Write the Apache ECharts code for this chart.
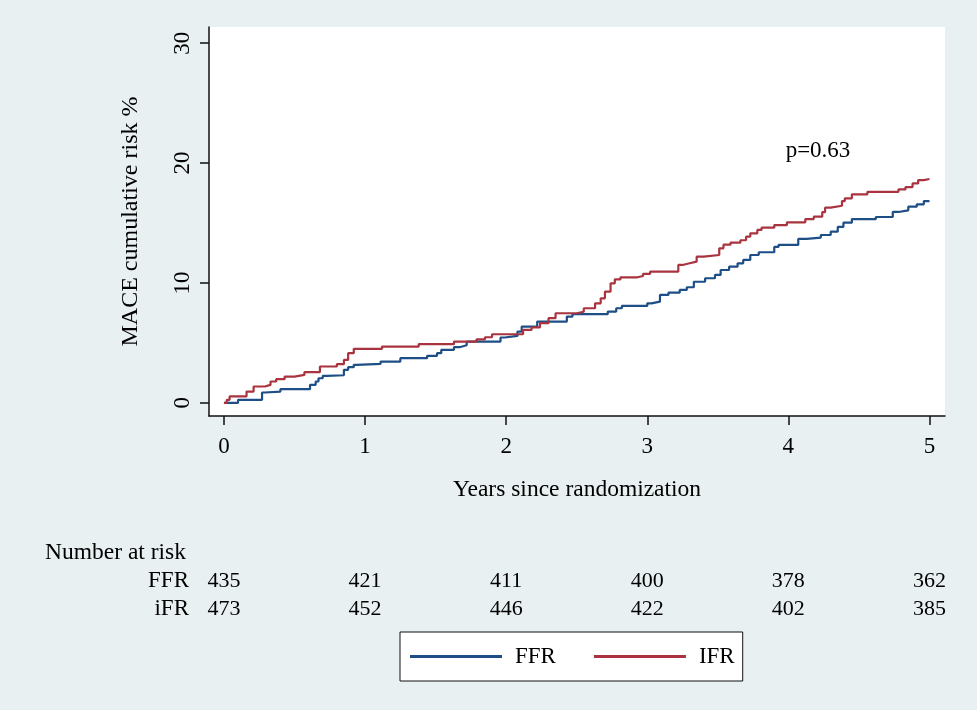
<!DOCTYPE html>
<html>
<head>
<meta charset="utf-8">
<script src="https://cdn.jsdelivr.net/npm/echarts@6/dist/echarts.min.js"></script>
<style>
  html, body { margin: 0; padding: 0; background: #e8f0f2; }
  #app { width: 977px; height: 710px; }
</style>
</head>
<body>
<div id="app"></div>
<script>
// Kaplan-Meier style cumulative risk
const ffrTime = [0, 0.10, 0.27, 0.29, 0.40, 0.61, 0.65, 0.67, 0.70, 0.73, 0.85, 0.88, 0.92, 0.94,
    1.11, 1.25, 1.44, 1.51, 1.54, 1.63, 1.67, 1.72, 1.96, 1.99, 2.08, 2.11, 2.22, 2.43, 2.47,
    2.72, 2.78, 2.82, 3.00, 3.03, 3.09, 3.15, 3.23, 3.28, 3.33, 3.41, 3.48, 3.52, 3.58, 3.64,
    3.68, 3.73, 3.79, 3.90, 3.93, 4.07, 4.13, 4.23, 4.30, 4.35, 4.39, 4.45, 4.62, 4.74, 4.78,
    4.85, 4.91, 4.96, 5.0];
const ffrRisk = [0, 0.25, 0.86, 0.94, 1.14, 1.5, 1.78, 2.05, 2.25, 2.3, 2.75, 2.97, 3.17, 3.25,
    3.44, 3.72, 3.92, 4.14, 4.42, 4.64, 4.8, 5.11, 5.45, 5.58, 5.94, 6.36, 6.78, 7.19, 7.39,
    7.61, 7.89, 8.08, 8.3, 8.44, 9.0, 9.19, 9.42, 9.64, 10.1, 10.39, 10.67, 11.08, 11.36, 11.64,
    11.92, 12.33, 12.56, 13.0, 13.17, 13.67, 13.78, 14.0, 14.28, 14.67, 15.03, 15.33, 15.5, 15.92, 16.06,
    16.36, 16.56, 16.83, 16.83];

const ifrTime = [0, 0.02, 0.04, 0.16, 0.21, 0.29, 0.33, 0.37, 0.43, 0.50, 0.57, 0.68, 0.80, 0.85,
    0.88, 0.92, 1.12, 1.38, 1.63, 1.79, 1.85, 1.90, 2.12, 2.18, 2.24, 2.30, 2.35, 2.50, 2.55,
    2.63, 2.67, 2.70, 2.74, 2.77, 2.81, 2.93, 2.97, 3.02, 3.22, 3.25, 3.30, 3.35, 3.40, 3.51,
    3.54, 3.59, 3.66, 3.70, 3.73, 3.78, 3.81, 3.90, 3.99, 4.12, 4.18, 4.24, 4.26, 4.30, 4.38,
    4.40, 4.45, 4.56, 4.78, 4.83, 4.88, 4.92, 4.96, 5.0];
const ifrRisk = [0, 0.25, 0.53, 0.94, 1.36, 1.5, 1.78, 1.97, 2.19, 2.33, 2.56, 3.03, 3.22, 3.58,
    4.14, 4.5, 4.69, 4.89, 5.11, 5.3, 5.47, 5.72, 6.08, 6.3, 6.64, 7.06, 7.47, 7.6, 7.89,
    8.3, 8.72, 9.28, 9.97, 10.3, 10.47, 10.58, 10.75, 10.94, 11.5, 11.64, 11.78, 12.19, 12.33, 12.89,
    13.19, 13.36, 13.56, 13.86, 14.14, 14.42, 14.61, 14.83, 15.06, 15.33, 15.53, 15.9, 16.28, 16.44, 16.83,
    17.06, 17.39, 17.6, 17.8, 18.0, 18.3, 18.58, 18.67, 18.67];

const xTicks = [0, 1, 2, 3, 4, 5];
const yTicks = [0, 10, 20, 30];

const riskYears = [0, 1, 2, 3, 4, 5];
const ffrAtRisk = [435, 421, 411, 400, 378, 362];
const ifrAtRisk = [473, 452, 446, 422, 402, 385];

const pValueText = 'p=0.63';
const pValuePos = [4.21, 21];

const FONT = '"Liberation Serif", "Times New Roman", serif';
const BLUE = '#1d4e86';
const RED = '#a9343f';

const chart = echarts.init(document.getElementById('app'));

const zip = (a, b) => a.map((v, i) => [v, b[i]]);

chart.setOption({
    animation: false,
    backgroundColor: '#e8f0f2',
    textStyle: { fontFamily: FONT },
    grid: {
        left: 209, right: 32, top: 27, bottom: 294,
        show: true, backgroundColor: '#fff', borderWidth: 0
    },
    xAxis: {
        type: 'value',
        min: -0.106, max: 5.11,
        name: 'Years since randomization',
        nameLocation: 'middle',
        nameGap: 62,
        nameTextStyle: { fontFamily: FONT, fontSize: 23.5, color: '#000' },
        axisLine: { onZero: false, lineStyle: { color: '#111', width: 1.5 } },
        axisTick: { customValues: xTicks, length: 9, lineStyle: { color: '#111', width: 1.5 } },
        axisLabel: { customValues: xTicks, margin: 19, fontFamily: FONT, fontSize: 23, color: '#000' },
        splitLine: { show: false }
    },
    yAxis: {
        type: 'value',
        min: -1.1, max: 31.35,
        name: 'MACE cumulative risk %',
        nameLocation: 'middle',
        nameGap: 66,
        nameRotate: 90,
        nameTextStyle: { fontFamily: FONT, fontSize: 24, color: '#000' },
        axisLine: { show: true, onZero: false, lineStyle: { color: '#111', width: 1.5 } },
        axisTick: { show: true, customValues: yTicks, length: 9, lineStyle: { color: '#111', width: 1.5 } },
        axisLabel: { customValues: yTicks, rotate: 90, margin: 15, fontFamily: FONT, fontSize: 23, color: '#000' },
        splitLine: { show: false }
    },
    legend: {
        left: 400, top: 632,
        orient: 'horizontal',
        backgroundColor: '#fff',
        borderColor: '#111', borderWidth: 1,
        padding: [13, 8, 13, 10],
        icon: 'rect',
        itemWidth: 92, itemHeight: 3,
        itemGap: 38,
        textStyle: { fontFamily: FONT, fontSize: 23, color: '#000', padding: [0, 0, 0, 8] },
        data: ['FFR', 'IFR']
    },
    series: [
        {
            name: 'FFR', type: 'line', step: 'end', symbol: 'none',
            lineStyle: { color: BLUE, width: 2.2 }, itemStyle: { color: BLUE },
            data: zip(ffrTime, ffrRisk)
        },
        {
            name: 'IFR', type: 'line', step: 'end', symbol: 'none',
            lineStyle: { color: RED, width: 2.2 }, itemStyle: { color: RED },
            data: zip(ifrTime, ifrRisk)
        }
    ]
});

// number-at-risk table and p value, placed through the axes
const px = t => chart.convertToPixel({ xAxisIndex: 0 }, t);
const textEl = (x, y, text, align, size) => ({
    type: 'text', x: x, y: y,
    style: { text: text, fill: '#000', font: (size || 23) + 'px ' + FONT, textAlign: align, textVerticalAlign: 'middle' }
});
const elements = [
    textEl(45, 553, 'Number at risk', 'left', 23.5),
    textEl(189, 581, 'FFR', 'right'),
    textEl(189, 609, 'iFR', 'right')
];
riskYears.forEach((t, i) => {
    elements.push(textEl(px(t), 581, String(ffrAtRisk[i]), 'center', 22));
    elements.push(textEl(px(t), 609, String(ifrAtRisk[i]), 'center', 22));
});
const pPos = chart.convertToPixel({ xAxisIndex: 0, yAxisIndex: 0 }, pValuePos);
elements.push(textEl(pPos[0], pPos[1], pValueText, 'center'));

chart.setOption({ graphic: elements });
</script>
</body>
</html>
